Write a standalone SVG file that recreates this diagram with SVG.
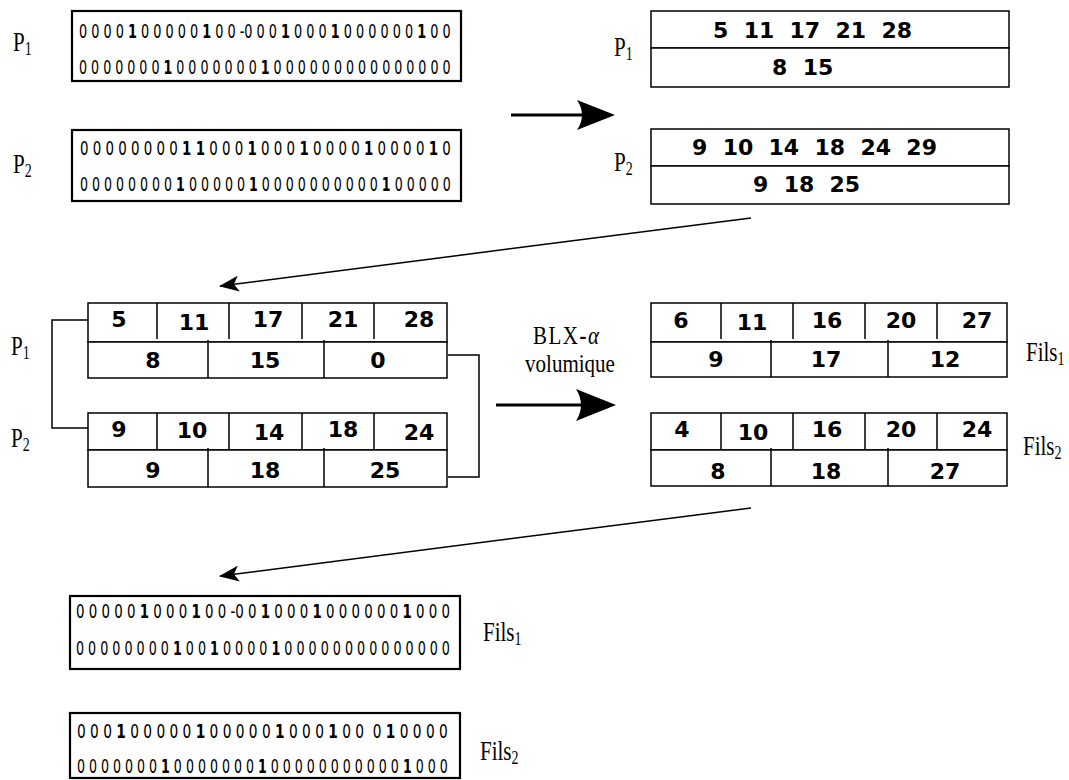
<svg xmlns="http://www.w3.org/2000/svg" width="1069" height="780" viewBox="0 0 1069 780">
<style>
.bits{font-family:"DejaVu Sans",sans-serif;font-size:20px;fill:#000}
.b{font-weight:bold}
.num{font-family:"DejaVu Sans",sans-serif;font-weight:bold;font-size:22px;text-anchor:middle;fill:#000}
.seq{font-family:"DejaVu Sans",sans-serif;font-weight:bold;font-size:22px;fill:#000}
.lbl{font-family:"Liberation Serif",serif;font-size:21px;fill:#000}
.sub{font-size:14px}
.box{fill:#fff;stroke:#000;stroke-width:1.5}
.bitbox{fill:#fff;stroke:#000;stroke-width:2.2}
.ln{stroke:#000;stroke-width:1.5;fill:none}
.thick{stroke:#000;stroke-width:3;fill:none}
.head{fill:#000;stroke:none}
</style>
<defs>
<marker id="ah" viewBox="0 0 20 16" refX="19" refY="8" markerWidth="20" markerHeight="16" markerUnits="userSpaceOnUse" orient="auto">
<path d="M20,8 L0,0 L5,8 L0,16 Z" fill="#000"/>
</marker>
</defs>
<rect width="1069" height="780" fill="#fff"/>

<!-- top-left bit strings -->
<g id="bitsP1">
<rect class="bitbox" x="72" y="11" width="389" height="70"/>
<text class="bits" transform="translate(79,38) scale(0.642,1)" xml:space="preserve">0 0 0 0 <tspan class="b">1</tspan> 0 0 0 0 0 <tspan class="b">1</tspan> 0 0 -0 0 0 <tspan class="b">1</tspan> 0 0 0 <tspan class="b">1</tspan> 0 0 0 0 0 0 <tspan class="b">1</tspan> 0 0</text>
<text class="bits" transform="translate(79,74) scale(0.633,1)" xml:space="preserve">0 0 0 0 0 0 0 <tspan class="b">1</tspan> 0 0 0 0 0 0 0 <tspan class="b">1</tspan> 0 0 0 0 0 0 0 0 0 0 0 0 0 0 0</text>
</g>
<g id="labelP1a"><text class="lbl" transform="translate(13,51) scale(1,1.3)">P<tspan class="sub" dy="3">1</tspan></text></g>

<g id="bitsP2">
<rect class="bitbox" x="72" y="130" width="389" height="71"/>
<text class="bits" transform="translate(80,155) scale(0.6695,1)" xml:space="preserve">0 0 0 0 0 0 0 0 <tspan class="b">1</tspan> <tspan class="b">1</tspan> 0 0 0 <tspan class="b">1</tspan> 0 0 0 <tspan class="b">1</tspan> 0 0 0 0 <tspan class="b">1</tspan> 0 0 0 0 <tspan class="b">1</tspan> 0</text>
<text class="bits" transform="translate(80,191) scale(0.630,1)" xml:space="preserve">0 0 0 0 0 0 0 0 <tspan class="b">1</tspan> 0 0 0 0 0 <tspan class="b">1</tspan> 0 0 0 0 0 0 0 0 0 0 <tspan class="b">1</tspan> 0 0 0 0 0</text>
</g>
<g id="labelP2a"><text class="lbl" transform="translate(13,173) scale(1,1.3)">P<tspan class="sub" dy="3">2</tspan></text></g>

<!-- top-right position lists -->
<g id="listP1">
<rect class="box" x="651" y="11" width="358" height="37"/>
<rect class="box" x="651" y="48" width="358" height="39"/>
<text class="seq" x="713" y="38" xml:space="preserve">5  11  17  21  28</text>
<text class="seq" x="772" y="75" xml:space="preserve">8  15</text>
</g>
<g id="labelP1b"><text class="lbl" transform="translate(614,56) scale(1,1.3)">P<tspan class="sub" dy="3">1</tspan></text></g>

<g id="listP2">
<rect class="box" x="651" y="129" width="358" height="37"/>
<rect class="box" x="651" y="166" width="358" height="38"/>
<text class="seq" x="692" y="155" xml:space="preserve">9  10  14  18  24  29</text>
<text class="seq" x="753" y="192" xml:space="preserve">9  18  25</text>
</g>
<g id="labelP2b"><text class="lbl" transform="translate(614,171) scale(1,1.3)">P<tspan class="sub" dy="3">2</tspan></text></g>

<!-- middle-left parents -->
<g id="cellsP1">
<rect class="box" x="88" y="303" width="359" height="39"/>
<rect class="box" x="88" y="342" width="359" height="36"/>
<path class="ln" d="M157,303V339M229,303V339M302,303V339M374,303V339M208,340V378M324,340V378"/>
<text class="num" x="119" y="327">5</text>
<text class="num" x="194" y="330">11</text>
<text class="num" x="268" y="327">17</text>
<text class="num" x="343" y="327">21</text>
<text class="num" x="419" y="327">28</text>
<text class="num" x="153" y="368">8</text>
<text class="num" x="265" y="368">15</text>
<text class="num" x="378" y="368">0</text>
</g>
<g id="labelP1c"><text class="lbl" transform="translate(11,355) scale(1,1.3)">P<tspan class="sub" dy="3">1</tspan></text></g>

<g id="cellsP2">
<rect class="box" x="88" y="413" width="359" height="37"/>
<rect class="box" x="88" y="450" width="359" height="37"/>
<path class="ln" d="M157,413V449M229,413V449M302,413V449M374,413V449M208,448V487M324,448V487"/>
<text class="num" x="119" y="437">9</text>
<text class="num" x="192" y="438">10</text>
<text class="num" x="269" y="440">14</text>
<text class="num" x="343" y="437">18</text>
<text class="num" x="419" y="440">24</text>
<text class="num" x="153" y="478">9</text>
<text class="num" x="265" y="478">18</text>
<text class="num" x="385" y="478">25</text>
</g>
<g id="labelP2c"><text class="lbl" transform="translate(11,447) scale(1,1.3)">P<tspan class="sub" dy="3">2</tspan></text></g>

<!-- operator label -->
<g id="blx">
<text class="lbl" transform="translate(533,344) scale(1,1.2)" letter-spacing="1.5">BLX<tspan font-weight="bold">-</tspan><tspan font-style="italic">α</tspan></text>
<text class="lbl" transform="translate(570,372) scale(1,1.2)" text-anchor="middle">volumique</text>
</g>

<!-- middle-right children -->
<g id="cellsF1">
<rect class="box" x="651" y="303" width="356" height="39"/>
<rect class="box" x="651" y="342" width="356" height="35"/>
<path class="ln" d="M721,303V339M793,303V339M865,303V339M937,303V339M771,340V377M888,340V377"/>
<text class="num" x="681" y="328">6</text>
<text class="num" x="752" y="330">11</text>
<text class="num" x="827" y="328">16</text>
<text class="num" x="901" y="328">20</text>
<text class="num" x="977" y="328">27</text>
<text class="num" x="716" y="367">9</text>
<text class="num" x="826" y="367">17</text>
<text class="num" x="945" y="367">12</text>
</g>
<g id="labelF1a"><text class="lbl" transform="translate(1026,361) scale(1,1.3)">Fils<tspan class="sub" dy="3">1</tspan></text></g>

<g id="cellsF2">
<rect class="box" x="651" y="413" width="356" height="37"/>
<rect class="box" x="651" y="450" width="356" height="36"/>
<path class="ln" d="M721,413V449M793,413V449M865,413V449M937,413V449M771,448V486M888,448V486"/>
<text class="num" x="682" y="437">4</text>
<text class="num" x="753" y="440">10</text>
<text class="num" x="827" y="437">16</text>
<text class="num" x="901" y="437">20</text>
<text class="num" x="977" y="437">24</text>
<text class="num" x="718" y="479">8</text>
<text class="num" x="826" y="479">18</text>
<text class="num" x="945" y="479">27</text>
</g>
<g id="labelF2a"><text class="lbl" transform="translate(1023,455) scale(1,1.3)">Fils<tspan class="sub" dy="3">2</tspan></text></g>

<!-- bottom bit strings -->
<g id="bitsF1">
<rect class="bitbox" x="70" y="596" width="390" height="73"/>
<text class="bits" transform="translate(76,618) scale(0.6676,1)" xml:space="preserve">0 0 0 0 0 <tspan class="b">1</tspan> 0 0 0 <tspan class="b">1</tspan> 0 0 -0 0 <tspan class="b">1</tspan> 0 0 0 <tspan class="b">1</tspan> 0 0 0 0 0 0 <tspan class="b">1</tspan> 0 0 0</text>
<text class="bits" transform="translate(76,655) scale(0.6353,1)" xml:space="preserve">0 0 0 0 0 0 0 0 <tspan class="b">1</tspan> 0 0 <tspan class="b">1</tspan> 0 0 0 0 <tspan class="b">1</tspan> 0 0 0 0 0 0 0 0 0 0 0 0 0 0</text>
</g>
<g id="labelF1b"><text class="lbl" transform="translate(483,641) scale(1,1.3)">Fils<tspan class="sub" dy="3">1</tspan></text></g>

<g id="bitsF2">
<rect class="bitbox" x="70" y="713" width="390" height="65"/>
<text class="bits" transform="translate(77,738) scale(0.6868,1)" xml:space="preserve">0 0 0 <tspan class="b">1</tspan> 0 0 0 0 0 <tspan class="b">1</tspan> 0 0 0 0 0 <tspan class="b">1</tspan> 0 0 0 <tspan class="b">1</tspan> 0 0  0 <tspan class="b">1</tspan> 0 0 0 0</text>
<text class="bits" transform="translate(77,773) scale(0.630,1)" xml:space="preserve">0 0 0 0 0 0 0 <tspan class="b">1</tspan> 0 0 0 0 0 0 0 <tspan class="b">1</tspan> 0 0 0 0 0 0 0 0 0 0 0 <tspan class="b">1</tspan> 0 0 0</text>
</g>
<g id="labelF2b"><text class="lbl" transform="translate(480,760) scale(1,1.3)">Fils<tspan class="sub" dy="3">2</tspan></text></g>

<!-- connectors -->
<g id="connectors">
<line class="thick" x1="511" y1="115" x2="582" y2="115"/>
<path class="head" d="M615,115 L577,100 Q587,115 577,130 Z"/>
<line class="ln" x1="751" y1="218" x2="220" y2="286" marker-end="url(#ah)"/>
<path class="ln" d="M88,320H52V428H88"/>
<path class="ln" d="M448,355H479V477H448"/>
<line class="thick" x1="496" y1="405" x2="582" y2="405"/>
<path class="head" d="M616,405 L576,389 Q586,405 576,421 Z"/>
<line class="ln" x1="751" y1="508" x2="220" y2="576" marker-end="url(#ah)"/>
</g>
</svg>
